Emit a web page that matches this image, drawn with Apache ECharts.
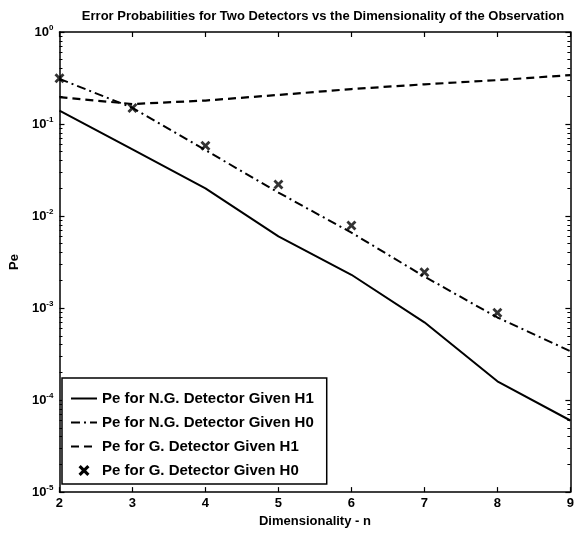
<!DOCTYPE html>
<html>
<head>
<meta charset="utf-8">
<script src="https://cdn.jsdelivr.net/npm/echarts@6/dist/echarts.min.js"></script>
<style>
  html, body { margin: 0; padding: 0; background: #fff; }
  #chart-container { width: 577px; height: 533px; }
</style>
</head>
<body>
<div id="chart-container"></div>
<script>
// dimensionality n
var dims = [2, 3, 4, 5, 6, 7, 8, 9];
// Pe for N.G. detector given H1 (solid)
var ngH1 = [0.14, 0.053, 0.020, 0.006, 0.0023, 0.0007, 0.00016, 0.00006];
// Pe for N.G. detector given H0 (dash-dot)
var ngH0 = [0.31, 0.15, 0.052, 0.018, 0.0066, 0.0022, 0.00079, 0.00034];
// Pe for G. detector given H1 (dashed)
var gH1 = [0.196, 0.165, 0.18, 0.207, 0.24, 0.27, 0.30, 0.34];
// Pe for G. detector given H0 (x markers), n = 2..8
var gH0 = [0.315, 0.149, 0.058, 0.022, 0.0079, 0.00245, 0.00089];

var names = [
  'Pe for N.G. Detector Given H1',
  'Pe for N.G. Detector Given H0',
  'Pe for G. Detector Given H1',
  'Pe for G. Detector Given H0'
];

function pairs(ys) {
  return ys.map(function (y, i) { return [dims[i], y]; });
}

var font = "'Liberation Sans', Arial, sans-serif";
var crossPath = 'path://M0,2 L2,0 L5,3 L8,0 L10,2 L7,5 L10,8 L8,10 L5,7 L2,10 L0,8 L3,5 Z';

var dom = document.getElementById('chart-container');
var myChart = echarts.init(dom, null, { renderer: 'canvas' });

var axisLine = { show: true, lineStyle: { color: '#000', width: 1.5 } };
var tick = { show: true, inside: true, length: 5, lineStyle: { color: '#000', width: 1.2 } };
var minor = { show: true, splitNumber: 9, length: 3, lineStyle: { color: '#000', width: 1 } };

var option = {
  animation: false,
  backgroundColor: '#fff',
  title: {
    text: 'Error Probabilities for Two Detectors vs the Dimensionality of the Observation',
    left: 318,
    textAlign: 'center',
    top: 5,
    textStyle: { fontFamily: font, fontWeight: 'bold', fontSize: 13, color: '#000' }
  },
  grid: { left: 52, right: 1, top: 32, bottom: 40 },
  legend: {
    orient: 'vertical',
    left: 62,
    top: 378,
    data: [
      { name: names[0], itemStyle: { opacity: 0 } },
      { name: names[1], itemStyle: { opacity: 0 } },
      { name: names[2], itemStyle: { opacity: 0 } },
      { name: names[3], itemStyle: { opacity: 1 } }
    ],
    itemWidth: 26,
    itemHeight: 11,
    itemGap: 9,
    padding: [13, 13, 6, 8],
    backgroundColor: '#fff',
    borderColor: '#000',
    borderWidth: 1.5,
    textStyle: { fontFamily: font, fontWeight: 'bold', fontSize: 15, color: '#000' }
  },
  xAxis: [
    {
      type: 'value',
      min: 2,
      max: 9,
      interval: 1,
      name: 'Dimensionality - n',
      nameLocation: 'middle',
      nameGap: 21,
      nameTextStyle: { fontFamily: font, fontWeight: 'bold', fontSize: 13, color: '#000' },
      axisLine: axisLine,
      axisTick: tick,
      axisLabel: { fontFamily: font, fontWeight: 'bold', fontSize: 13, color: '#000', margin: 5 },
      splitLine: { show: false }
    },
    {
      type: 'value',
      position: 'top',
      min: 2,
      max: 9,
      interval: 1,
      axisLine: axisLine,
      axisTick: tick,
      axisLabel: { show: false },
      splitLine: { show: false }
    }
  ],
  yAxis: [
    {
      type: 'log',
      min: 0.00001,
      max: 1,
      logBase: 10,
      name: 'Pe',
      nameLocation: 'middle',
      nameGap: 34,
      nameTextStyle: { fontFamily: font, fontWeight: 'bold', fontSize: 13, color: '#000' },
      axisLine: axisLine,
      axisTick: tick,
      minorTick: minor,
      axisLabel: {
        margin: 6,
        formatter: function (v) {
          var e = Math.round(Math.log10(v));
          return '{b|10}{s|' + e + '}';
        },
        rich: {
          b: { fontFamily: font, fontWeight: 'bold', fontSize: 13, color: '#000' },
          s: { fontFamily: font, fontWeight: 'bold', fontSize: 8, color: '#000', verticalAlign: 'top', padding: [0, 0, 8, 0] }
        }
      },
      splitLine: { show: false }
    },
    {
      type: 'log',
      position: 'right',
      min: 0.00001,
      max: 1,
      logBase: 10,
      axisLine: axisLine,
      axisTick: tick,
      minorTick: minor,
      axisLabel: { show: false },
      splitLine: { show: false }
    }
  ],
  series: [
    {
      name: names[0],
      type: 'line',
      data: pairs(ngH1),
      symbol: 'none',
      lineStyle: { color: '#000', width: 2, type: 'solid' },
      itemStyle: { color: '#000' }
    },
    {
      name: names[1],
      type: 'line',
      data: pairs(ngH0),
      symbol: 'none',
      lineStyle: { color: '#000', width: 2, type: [9, 4, 2, 4] },
      itemStyle: { color: '#000' }
    },
    {
      name: names[2],
      type: 'line',
      data: pairs(gH1),
      symbol: 'none',
      lineStyle: { color: '#000', width: 2.2, type: [8, 5] },
      itemStyle: { color: '#000' }
    },
    {
      name: names[3],
      type: 'scatter',
      data: pairs(gH0),
      symbol: crossPath,
      symbolSize: 10,
      itemStyle: { color: '#000' }
    }
  ]
};

if (option && typeof option === 'object') {
  myChart.setOption(option);
}

window.addEventListener('resize', myChart.resize);
</script>
</body>
</html>
